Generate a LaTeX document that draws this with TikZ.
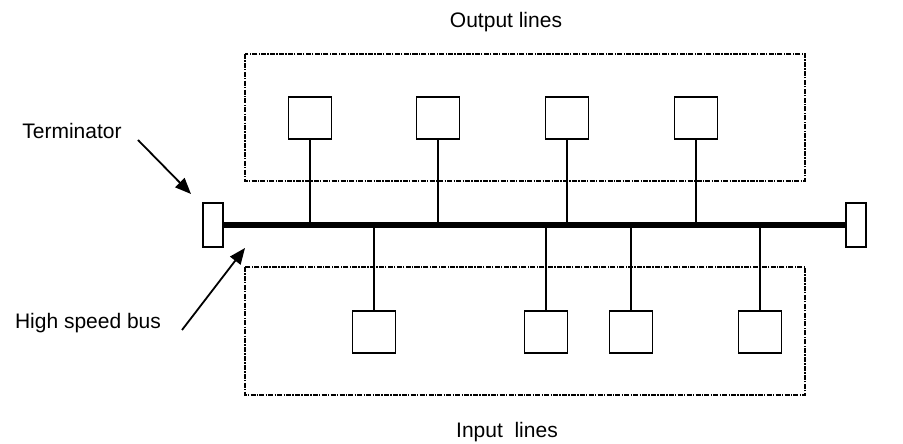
\documentclass[tikz,border=0pt]{standalone}
\usepackage{fontspec}
\setmainfont{Liberation Sans}
\usetikzlibrary{arrows.meta}
\begin{document}
\begin{tikzpicture}[x=1bp,y=-1bp,
  unitbox/.style={draw,line width=1.5bp,minimum width=43bp,minimum height=42bp,inner sep=0pt},
  termbox/.style={draw,line width=1.5bp,minimum width=20bp,minimum height=44bp,inner sep=0pt},
  groupbox/.style={line width=1.3bp,dash pattern=on 5bp off 1.3bp on 1.3bp off 1.3bp},
  stem/.style={line width=1.5bp},
  bus/.style={line width=5.5bp},
  pointer/.style={line width=1.8bp,-{Triangle[length=16bp,width=13bp]}},
  label/.style={font=\fontsize{21bp}{24bp}\selectfont,inner sep=0pt,anchor=base}]
\useasboundingbox (0,0) rectangle (903,444);

% groups of lines
\draw[groupbox] (245,54) rectangle (805,181);
\draw[groupbox] (245,267) rectangle (805,395);

% terminators and bus
\node[termbox] (tl) at (213,225) {};
\node[termbox] (tr) at (856,225) {};
\draw[bus] (tl.east) -- (tr.west);

% output units
\foreach \i/\x in {1/310,2/438,3/567,4/696}{
  \node[unitbox] (o\i) at (\x,118) {};
  \coordinate (ob\i) at (\x,225);
  \draw[stem] (o\i.south) -- (ob\i);
}
% input units
\foreach \i/\x in {1/374,2/546,3/631,4/760}{
  \node[unitbox] (n\i) at (\x,332) {};
  \coordinate (nb\i) at (\x,225);
  \draw[stem] (nb\i) -- (n\i.north);
}

% labels
\node[label] (outl) at (506,28) {Output lines};
\node[label] (inl) at (507,437) {Input\ \ lines};
\node[label] (term) at (72,139) {Terminator};
\node[label] (hsb) at (88,329) {High speed bus};

% pointers
\coordinate (ta) at (138,140);
\coordinate (tb) at (191,194);
\draw[pointer] (ta) -- (tb);
\coordinate (ha) at (182,330);
\coordinate (hb) at (245,248);
\draw[pointer] (ha) -- (hb);
\end{tikzpicture}
\end{document}
